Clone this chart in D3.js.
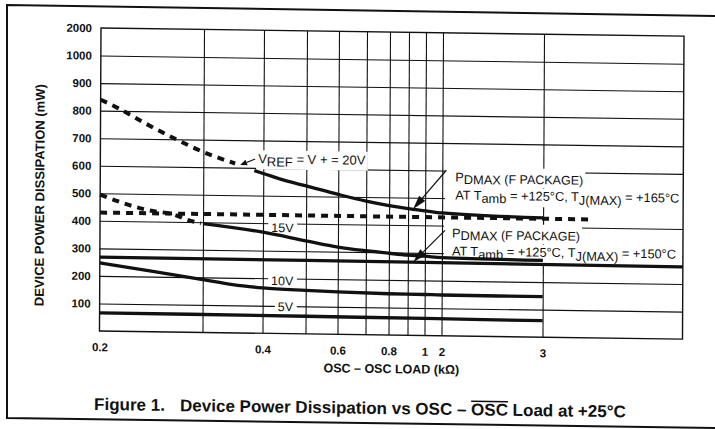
<!DOCTYPE html>
<html><head><meta charset="utf-8">
<script src="https://cdn.jsdelivr.net/npm/d3@7/dist/d3.min.js"></script>
<style>
html,body{margin:0;padding:0;background:#fff;}
svg{display:block;font-family:"Liberation Sans",Arial,Helvetica,sans-serif;}
</style></head><body>
<svg id="chart" width="715" height="429"></svg>
<script>
// ---------------- data ----------------
const xTickValues = [0.2, 0.4, 0.6, 0.8, 1, 2, 3];
const xTickLabels = ["0.2", "0.4", "0.6", "0.8", "1", "2", "3"];
const xGridValues = [0.3, 0.4, 0.5, 0.6, 0.7, 0.8, 0.9, 1, 2, 3];
const yTickValues = [100, 200, 300, 400, 500, 600, 700, 800, 900, 1000, 2000];
const yTickLabels = ["100", "200", "300", "400", "500", "600", "700", "800", "900", "1000", "2000"];
const yGridValues = [100, 200, 300, 400, 500, 600, 700, 800, 900, 1000];

// V+ = VREF = 20 V
const v20Dashed = [[0.2, 840], [0.217, 810], [0.243, 757], [0.275, 697], [0.3, 655], [0.353, 615]];
const v20Solid = [[0.385, 590], [0.4, 580], [0.45, 556], [0.5, 537], [0.6, 508], [0.7, 485], [0.8, 470], [0.9, 460], [1, 453], [2, 446], [3, 433]];
// 15 V
const v15Dashed = [[0.2, 495], [0.227, 460], [0.247, 441], [0.273, 425], [0.285, 408], [0.298, 396]];
const v15Solid = [[0.3, 395], [0.4, 367], [0.5, 338], [0.6, 317], [0.7, 305], [0.8, 297], [0.9, 291], [1, 288], [2, 284], [3, 279]];
// 10 V
const v10 = [[0.2, 247], [0.25, 220], [0.3, 192], [0.35, 175], [0.4, 165], [0.5, 158], [0.6, 154], [0.8, 150], [1, 149], [2, 148], [3, 147]];
// 5 V
const v5 = [[0.2, 66], [0.5, 64], [1, 62], [3, 60]];
// PDMAX limits
const pdmax165 = [[0.2, 430], [3.35, 430]];
const pdmax150 = [[0.2, 268], [1, 266], [4, 262]];

// ---------------- layout ----------------
const plot = {left: 101, top: 28, right: 684, bottom: 331};
const step = (plot.bottom - plot.top) / 11;
const x = d3.scaleLinear()
  .domain([0.2, 0.3, 0.4, 0.5, 0.6, 0.7, 0.8, 0.9, 1, 2, 3, 4])
  .range([101, 204, 264, 307, 339, 367, 390, 409, 426, 443, 544, 684]);
const y = d3.scaleLinear()
  .domain([0, 1000, 2000])
  .range([plot.bottom, plot.bottom - 10 * step, plot.top]);

const ink = "#111";
const svg = d3.select("#chart");
svg.append("rect").attr("width", 715).attr("height", 429).attr("fill", "#fff");

// outer frame (scan is slightly skewed)
svg.append("path")
  .attr("d", "M716,16 L7,5 L7,418 L716,428")
  .attr("fill", "none").attr("stroke", ink).attr("stroke-width", 2);

const sk = {b: 0.014, a: -0.005};
const root = svg.append("g")
  .attr("transform", `matrix(1,${sk.b},${sk.a},1,${-sk.a * plot.top},${-sk.b * plot.left})`);

const gGrid = root.append("g");
const gBg = root.append("g");
const gCurves = root.append("g");
const gText = root.append("g");
const gFrame = root.append("g");

// grid via axes
gGrid.append("g")
  .attr("transform", `translate(0,${plot.bottom})`)
  .call(d3.axisBottom(x).tickValues(xGridValues).tickSize(-(plot.bottom - plot.top)).tickFormat(""))
  .call(g => g.select(".domain").remove())
  .call(g => g.selectAll("line").attr("stroke", ink).attr("stroke-width", 1.1));
gGrid.append("g")
  .attr("transform", `translate(${plot.left},0)`)
  .call(d3.axisLeft(y).tickValues(yGridValues).tickSize(-(plot.right - plot.left)).tickFormat(""))
  .call(g => g.select(".domain").remove())
  .call(g => g.selectAll("line").attr("stroke", ink).attr("stroke-width", 1.1));

// tick labels
const yAxis = gText.append("g")
  .attr("transform", `translate(${plot.left},0)`)
  .call(d3.axisLeft(y).tickValues(yTickValues).tickSize(0).tickPadding(9)
    .tickFormat((d, i) => yTickLabels[i]));
yAxis.select(".domain").remove();
yAxis.selectAll("text").attr("font-family", "Liberation Sans, Arial, sans-serif")
  .attr("font-size", 11.5).attr("font-weight", "bold").attr("fill", ink);

const xAxis = gText.append("g")
  .attr("transform", `translate(0,${plot.bottom})`)
  .call(d3.axisBottom(x).tickValues(xTickValues).tickSize(0).tickPadding(12)
    .tickFormat((d, i) => xTickLabels[i]));
xAxis.select(".domain").remove();
xAxis.selectAll("text").attr("font-family", "Liberation Sans, Arial, sans-serif")
  .attr("font-size", 11.5).attr("font-weight", "bold").attr("fill", ink);

// axis titles
gText.append("text")
  .attr("transform", "translate(45,196) rotate(-90)")
  .attr("text-anchor", "middle").attr("font-size", 13).attr("font-weight", "bold").attr("fill", ink)
  .text("DEVICE POWER DISSIPATION (mW)");
gText.append("text")
  .attr("x", 393).attr("y", 369)
  .attr("text-anchor", "middle").attr("font-size", 12.5).attr("font-weight", "bold").attr("fill", ink)
  .text("OSC – OSC LOAD (kΩ)");

// figure title
const titleY = 410;
const title = gText.append("text").attr("y", titleY).attr("font-size", 17).attr("font-weight", "bold").attr("fill", ink);
title.append("tspan").attr("x", 96).text("Figure 1.");
title.append("tspan").attr("x", 182).text("Device Power Dissipation vs OSC – OSC Load at +25°C");
{
  const full = "Figure 1.Device Power Dissipation vs OSC – OSC Load at +25°C";
  const idx = full.lastIndexOf("OSC");
  const node = title.node();
  const s = node.getStartPositionOfChar(idx);
  const e = node.getEndPositionOfChar(idx + 2);
  gText.append("line").attr("x1", s.x).attr("x2", e.x).attr("y1", titleY - 14).attr("y2", titleY - 14)
    .attr("stroke", ink).attr("stroke-width", 1.4);
}

// curve labels with white backgrounds
function label(xpos, ypos, parts, size, pad, anchor) {
  const t = gText.append("text").attr("x", xpos).attr("y", ypos).attr("font-size", size).attr("fill", ink)
    .attr("text-anchor", anchor || "start");
  parts.forEach(p => {
    const ts = t.append("tspan").text(p.t);
    if (p.dy) ts.attr("dy", p.dy);
    if (p.s) ts.attr("font-size", p.s);
  });
  const bb = t.node().getBBox();
  const pd = pad || [2, 1, 2, 1];
  gBg.append("rect").attr("x", bb.x - pd[0]).attr("y", bb.y - pd[1])
    .attr("width", bb.width + pd[0] + pd[2]).attr("height", bb.height + pd[1] + pd[3]).attr("fill", "#fff");
  return t;
}

label(258.8, 161, [{t: "V"}, {t: "REF", dy: 3}, {t: " = V + = 20V", dy: -3}], 13, [2, 1, 2, 0]);
label(456, 176.5, [{t: "P"}, {t: "DMAX", dy: 2.5}, {t: " (F PACKAGE)", dy: -1, s: 12.5}], 12.8, [10, 2, 2, 0]);
label(456, 194.5, [{t: "AT T"}, {t: "amb", dy: 3}, {t: " = +125°C, T", dy: -3}, {t: "J(MAX)", dy: 3.5}, {t: " = +165°C", dy: -3.5}], 12.8, [10, 0, 6, 0]);
label(453, 232.5, [{t: "P"}, {t: "DMAX", dy: 2.5}, {t: " (F PACKAGE)", dy: -1, s: 12.5}], 12.8, [8, 2, 2, 0]);
label(453, 250.5, [{t: "AT T"}, {t: "amb", dy: 3}, {t: " = +125°C, T", dy: -3}, {t: "J(MAX)", dy: 3.5}, {t: " = +150°C", dy: -3.5}], 12.8, [8, 0, 6, 0]);
label(294.5, 229.6, [{t: "15V"}], 12.5, [3, 0, 3, 0], "end");
label(294.5, 282.7, [{t: "10V"}], 12.5, [3, 0, 3, 0], "end");
label(294.5, 308.5, [{t: "5V"}], 12.5, [3, 0, 3, 0], "end");

// curves
const line = d3.line().x(d => x(d[0])).y(d => y(d[1])).curve(d3.curveMonotoneX);
function curve(data, dashed, w) {
  gCurves.append("path").datum(data).attr("d", line)
    .attr("fill", "none").attr("stroke", ink).attr("stroke-width", w || 3.3)
    .attr("stroke-linejoin", "round")
    .attr("stroke-dasharray", dashed ? "7,6" : null);
}
curve(pdmax165, true, 4);
curve(pdmax150, false, 3.3);
curve(v20Dashed, true, 4);
curve(v20Solid, false, 3.3);
curve(v15Dashed, true, 4);
curve(v15Solid, false, 3.3);
curve(v10, false, 3.3);
curve(v5, false, 3.3);

// arrows
function arrow(x1, y1, x2, y2, head, hw) {
  const dx = x2 - x1, dy = y2 - y1, L = Math.hypot(dx, dy);
  const ux = dx / L, uy = dy / L;
  const bx = x2 - ux * head, by = y2 - uy * head;
  gCurves.append("line").attr("x1", x1).attr("y1", y1).attr("x2", bx).attr("y2", by)
    .attr("stroke", ink).attr("stroke-width", 1.2);
  gCurves.append("path")
    .attr("d", `M${x2},${y2} L${bx - uy * hw},${by + ux * hw} L${bx + uy * hw},${by - ux * hw} Z`)
    .attr("fill", ink);
}
arrow(255.8, 156.8, 240.8, 163.1, 7, 3);
arrow(447, 165.4, 414, 204.5, 14, 4);
arrow(446, 225.6, 414.4, 257.6, 14, 4);

// plot frame
gFrame.append("rect")
  .attr("x", plot.left).attr("y", plot.top)
  .attr("width", plot.right - plot.left).attr("height", plot.bottom - plot.top)
  .attr("fill", "none").attr("stroke", ink).attr("stroke-width", 1.4);
</script>
</body></html>
